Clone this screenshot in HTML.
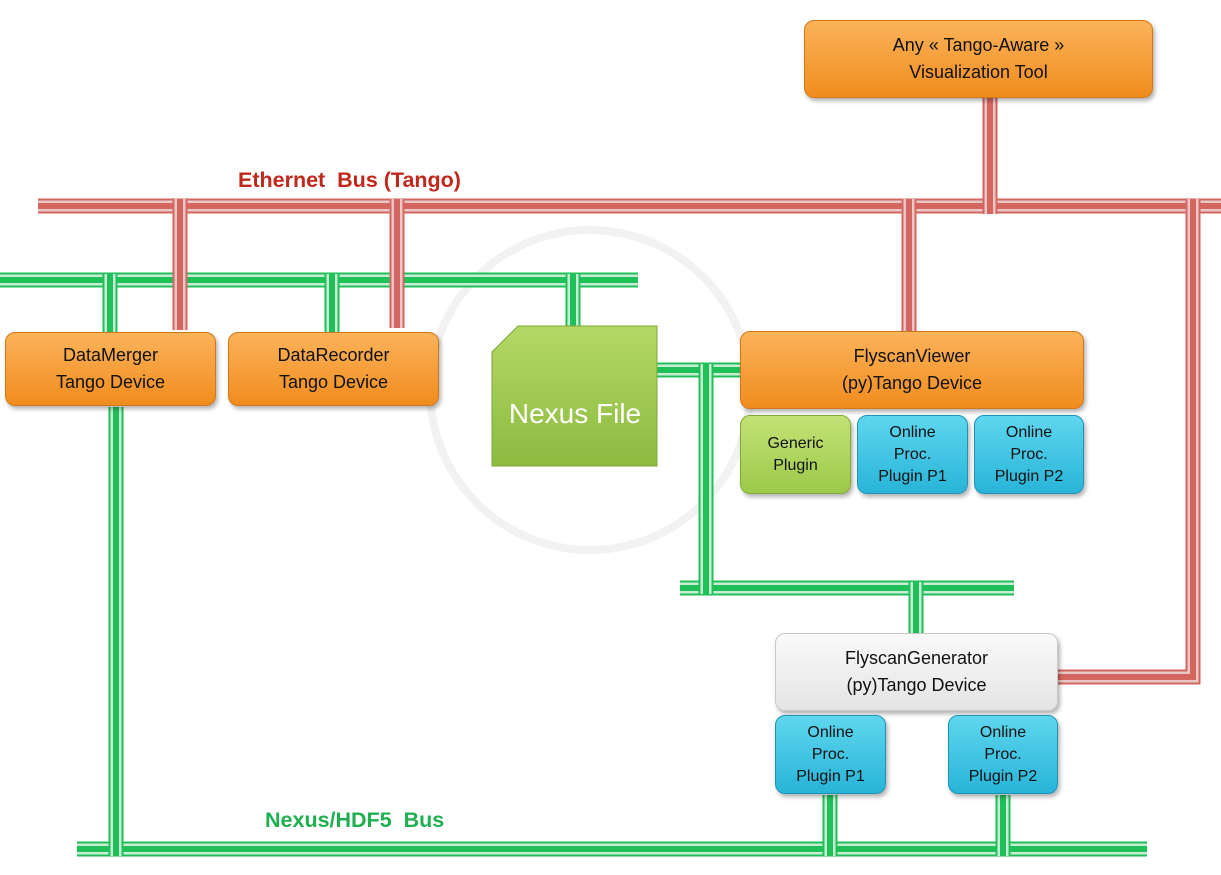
<!DOCTYPE html>
<html><head><meta charset="utf-8"><style>
body{margin:0;width:1221px;height:875px;background:#fff;overflow:hidden;position:relative;font-family:"Liberation Sans",sans-serif}
.b{position:absolute;box-sizing:border-box;border-radius:10px;display:flex;align-items:center;justify-content:center;text-align:center;color:#111;box-shadow:2px 3px 4px rgba(0,0,0,.3)}
.o{background:linear-gradient(#fbb35a,#f08c1e);border:1px solid #d2781a;font-size:18px;line-height:27px}
.c{background:linear-gradient(#5fd6ee,#28b4d8);border:1px solid #1e94b4;font-size:16px;line-height:22px}
.g{background:linear-gradient(#c3e276,#9cc94a);border:1px solid #82a83a;font-size:16px;line-height:22px}
.w{background:linear-gradient(#fafafa,#e4e4e4);border:1px solid #c8c8c8;font-size:18px;line-height:27px}
.t{position:absolute;font-weight:bold;font-size:21.5px}
</style></head><body>
<svg width="1221" height="875" style="position:absolute;left:0;top:0">
<circle cx="590" cy="390" r="160" fill="none" stroke="#f2f2f2" stroke-width="8"/>
<defs>
<g id="rh"><path d="M38 206H1221"/></g>
</defs>
<g fill="none">
<g stroke-width="15" stroke="#d5665f"><path d="M38 206H1221"/></g>
<g stroke-width="11" stroke="#e8c8c6"><path d="M38 206H1221"/></g>
<g stroke-width="6" stroke="#d5665f"><path d="M38 206H1221"/></g>
<g stroke-width="15" stroke="#1fbf5a"><path d="M0 280H638 M657 370H740 M680 588H1014 M77 849H1147"/></g>
<g stroke-width="11" stroke="#c8ecd4"><path d="M0 280H638 M657 370H740 M680 588H1014 M77 849H1147"/></g>
<g stroke-width="6" stroke="#1fbf5a"><path d="M0 280H638 M657 370H740 M680 588H1014 M77 849H1147"/></g>
<g stroke-width="15" stroke="#1fbf5a"><path d="M110 274V332 M332 274V332 M573 274V326 M706 364V594 M916 582V634 M116 407V856 M830 795V856 M1003 795V856"/></g>
<g stroke-width="11" stroke="#c8ecd4"><path d="M110 274V332 M332 274V332 M573 274V326 M706 364V594 M916 582V634 M116 407V856 M830 795V856 M1003 795V856"/></g>
<g stroke-width="6" stroke="#1fbf5a"><path d="M110 274V332 M332 274V332 M573 274V326 M706 364V594 M916 582V634 M116 407V856 M830 795V856 M1003 795V856"/></g>
<g stroke-width="15" stroke="#d5665f"><path d="M180 199V330 M397 199V328 M909 199V332 M990 98V214 M1193 199V677H1058"/></g>
<g stroke-width="11" stroke="#e8c8c6"><path d="M180 199V330 M397 199V328 M909 199V332 M990 98V214 M1193 199V677H1058"/></g>
<g stroke-width="6" stroke="#d5665f"><path d="M180 199V330 M397 199V328 M909 199V332 M990 98V214 M1193 199V677H1058"/></g>
</g>
<defs><linearGradient id="ng" x1="0" y1="0" x2="0" y2="1"><stop offset="0" stop-color="#b4d865"/><stop offset="1" stop-color="#8cbb40"/></linearGradient></defs>
<path d="M518 326H657V466H492V352Z" fill="url(#ng)" stroke="#7fa638"/>
<text x="575" y="423" font-family="Liberation Sans" font-size="28" fill="#fff" text-anchor="middle">Nexus File</text>
</svg>
<div class="t" style="left:238px;top:168px;color:#c0281c">Ethernet&nbsp; Bus (Tango)</div>
<div class="t" style="left:265px;top:808px;color:#1fae50">Nexus/HDF5&nbsp; Bus</div>
<div class="b o" style="left:804px;top:20px;width:349px;height:78px">Any « Tango-Aware »<br>Visualization Tool</div>
<div class="b o" style="left:5px;top:332px;width:211px;height:74px">DataMerger<br>Tango Device</div>
<div class="b o" style="left:228px;top:332px;width:211px;height:74px">DataRecorder<br>Tango Device</div>
<div class="b o" style="left:740px;top:331px;width:344px;height:78px">FlyscanViewer<br>(py)Tango Device</div>
<div class="b g" style="left:740px;top:415px;width:111px;height:79px">Generic<br>Plugin</div>
<div class="b c" style="left:857px;top:415px;width:111px;height:79px">Online<br>Proc.<br>Plugin P1</div>
<div class="b c" style="left:974px;top:415px;width:110px;height:79px">Online<br>Proc.<br>Plugin P2</div>
<div class="b w" style="left:775px;top:633px;width:283px;height:78px">FlyscanGenerator<br>(py)Tango Device</div>
<div class="b c" style="left:775px;top:715px;width:111px;height:79px">Online<br>Proc.<br>Plugin P1</div>
<div class="b c" style="left:948px;top:715px;width:110px;height:79px">Online<br>Proc.<br>Plugin P2</div>
</body></html>
